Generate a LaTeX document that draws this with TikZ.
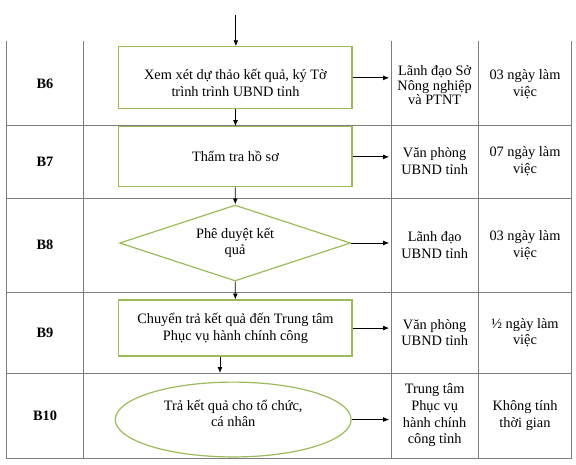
\documentclass[tikz,border=0pt]{standalone}
\usepackage{fontspec}
\setmainfont{Liberation Serif}
\usepackage{xcolor}
\usepackage{tikz}
\usetikzlibrary{shapes.geometric, arrows.meta, positioning, calc}
\definecolor{boxgreen}{RGB}{155,187,89}
\definecolor{linegray}{RGB}{125,125,125}
\tikzset{
    flowbox/.style={rectangle, draw=boxgreen, line width=0.9pt, fill=white,
                    minimum width=6.17cm, align=center, inner sep=0pt,
                    font=\fontsize{10.8}{12.5}\selectfont},
    decbox/.style={diamond, draw=boxgreen, line width=0.9pt, fill=white,
                   minimum width=6.11cm, minimum height=2.01cm, aspect=3,
                   inner sep=0pt, align=center,
                   font=\fontsize{10.8}{12.5}\selectfont},
    endbox/.style={ellipse, draw=boxgreen, line width=0.9pt, fill=white,
                   minimum width=6.24cm, minimum height=1.98cm,
                   inner sep=0pt, align=center,
                   font=\fontsize{10.8}{12.5}\selectfont},
    steplbl/.style={font=\bfseries\fontsize{10.8}{12.5}\selectfont},
    cell/.style={align=center, inner sep=0pt,
                 font=\fontsize{10.8}{12.5}\selectfont},
    tline/.style={draw=linegray, line width=0.8pt},
    arr/.style={-{Latex[length=4.5pt,width=3.6pt]}, line width=0.6pt, draw=black}
}

\begin{document}
\begin{tikzpicture}
\useasboundingbox (0,0) rectangle (15.24,-12.28);

% table frame
\foreach \y in {-3.31,-5.24,-7.73,-9.87}
    \draw[tline] (0.16,\y) -- (15.13,\y);
\foreach \x in {2.22,10.35,12.65}
    \draw[tline] (\x,-1.085) -- (\x,-12.12);
\draw[tline] (0.16,-1.085) -- (0.16,-12.12) -- (15.13,-12.12) -- (15.13,-1.085);
\coordinate (col3) at (10.35,0);

% step labels
\node[steplbl] at (1.19,-2.22)  (s6)  {B6};
\node[steplbl] at (1.19,-4.27)  (s7)  {B7};
\node[steplbl] at (1.19,-6.48)  (s8)  {B8};
\node[steplbl] at (1.19,-8.80)  (s9)  {B9};
\node[steplbl] at (1.19,-10.99) (s10) {B10};

% flow
\coordinate (in) at (6.24,-0.40);
\node[flowbox, minimum height=1.64cm,
      label={[cell, yshift=-4pt]center:{Xem xét dự thảo kết quả, ký Tờ\\trình trình UBND tỉnh}}]
      at (6.23,-2.06) (b6) {};
\node[flowbox, minimum height=1.59cm] at (6.23,-4.15) (b7)
    {Thẩm tra hồ sơ};
\node[decbox] at (6.22,-6.43) (b8) {Phê duyệt kết\\quả};
\node[flowbox, minimum height=1.48cm] at (6.23,-8.68) (b9)
    {Chuyển trả kết quả đến Trung tâm\\Phục vụ hành chính công};
\node[endbox, label={[cell, yshift=4.5pt]center:{Trả kết quả cho tổ chức,\\cá nhân}}]
      at (6.17,-11.10) (b10) {};
\coordinate (b10in) at (5.82,-9.87);

% who
\node[cell, font=\fontsize{10.8}{11}\selectfont]
                  at (11.50,-2.26)  (r6)  {Lãnh đạo Sở\\Nông nghiệp\\và PTNT};
\node[cell] at (11.50,-4.27)  (r7)  {Văn phòng\\UBND tỉnh};
\node[cell] at (11.50,-6.48)  (r8)  {Lãnh đạo\\UBND tỉnh};
\node[cell] at (11.50,-8.80)  (r9)  {Văn phòng\\UBND tỉnh};
\node[cell] at (11.50,-10.99) (r10) {Trung tâm\\Phục vụ\\hành chính\\công tỉnh};

% time
\node[cell] at (13.89,-2.22)  (t6)  {03 ngày làm\\việc};
\node[cell] at (13.89,-4.27)  (t7)  {07 ngày làm\\việc};
\node[cell] at (13.89,-6.48)  (t8)  {03 ngày làm\\việc};
\node[cell] at (13.89,-8.80)  (t9)  {½ ngày làm\\việc};
\node[cell] at (13.89,-10.99) (t10) {Không tính\\thời gian};

\draw[arr] (in) -- (in |- b6.north);
\draw[arr] (b6) -- (b7);
\draw[arr] (b7) -- (b8);
\draw[arr] (b8) -- (b9);
\draw[arr] (b9.south -| b10in) -- (b10in);

\foreach \n in {b6,b7,b8,b9,b10}
    \draw[arr, shorten >=1.5pt] (\n.east) -- (\n.east -| col3);
\end{tikzpicture}
\end{document}
